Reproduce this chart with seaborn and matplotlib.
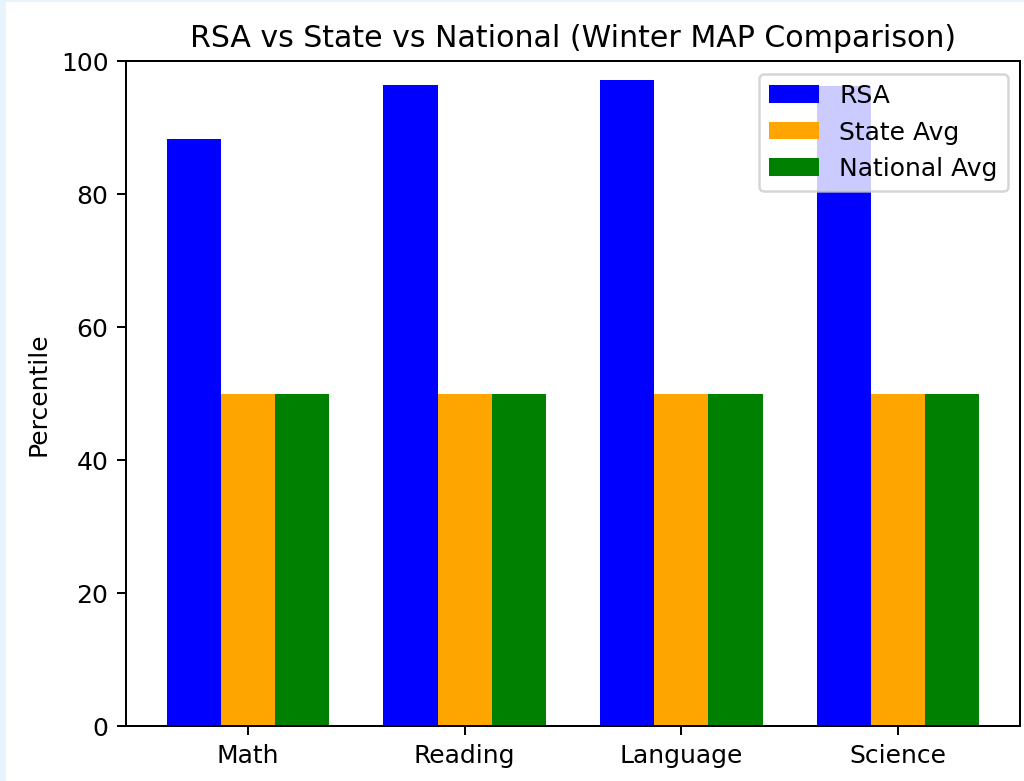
import matplotlib
matplotlib.use("Agg")
import matplotlib.pyplot as plt
from matplotlib.patches import Rectangle
import seaborn as sns
import pandas as pd

# Winter MAP percentiles
subjects = ["Math", "Reading", "Language", "Science"]
rsa = [88.2, 96.4, 97.2, 96.3]
state_avg = [50, 50, 50, 50]
national_avg = [50, 50, 50, 50]
series_names = ["RSA", "State Avg", "National Avg"]
colors = ["blue", "orange", "green"]

df = pd.DataFrame({
    "Subject": subjects * 3,
    "Group": [series_names[0]] * 4 + [series_names[1]] * 4 + [series_names[2]] * 4,
    "Percentile": rsa + state_avg + national_avg,
})

fig = plt.figure(figsize=(1024 / 180, 782 / 180), dpi=180)
fig.patch.set_facecolor("#e8f4fb")
# white page area inside the light-blue frame
fig.add_artist(Rectangle((6 / 1024, 0), 1, 1 - 3 / 782, transform=fig.transFigure,
                         facecolor="white", edgecolor="none", zorder=-1))

ax = fig.add_axes([126 / 1024, 1 - 727 / 782, (1020 - 126) / 1024, (727 - 62) / 782])
sns.barplot(data=df, x="Subject", y="Percentile", hue="Group",
            hue_order=series_names, palette=colors, width=0.75,
            saturation=1, ax=ax)

ax.set_xlim(-0.5625, 3.5625)
ax.set_ylim(0, 100)
ax.set_xlabel("")
ax.set_ylabel("Percentile")
ax.set_title("RSA vs State vs National (Winter MAP Comparison)")
ax.legend(loc="upper right", title=None)

fig.savefig("out.png", dpi=180, facecolor=fig.get_facecolor())
